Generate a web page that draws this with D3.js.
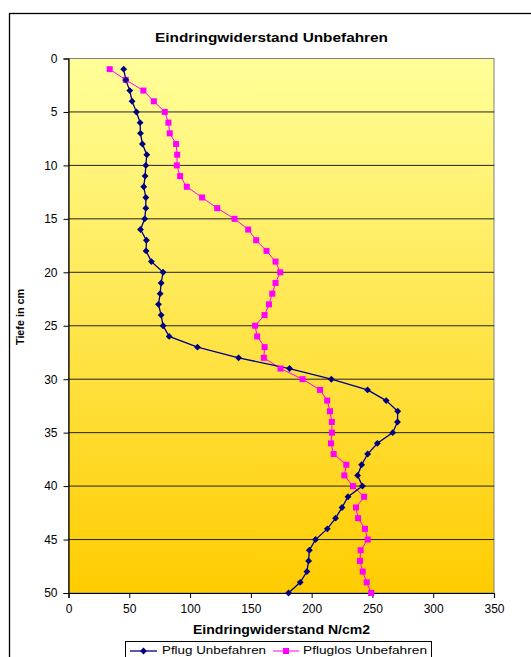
<!DOCTYPE html>
<html>
<head>
<meta charset="utf-8">
<script src="https://cdn.jsdelivr.net/npm/d3@7"></script>
<style>
  html, body { margin: 0; padding: 0; background: #fff; }
  svg { display: block; font-family: Arial, "Liberation Sans", sans-serif; }
</style>
</head>
<body>
<svg id="chart" width="531" height="657"></svg>
<script>
// Penetration resistance by depth, untrafficked plots
const depths = d3.range(1, 51);
const pflug = [45.4, 47.1, 50.4, 52.3, 55.9, 58.9, 59.2, 60.8, 64.4, 63.6,
               63.0, 61.9, 63.6, 63.6, 62.7, 59.2, 64.1, 63.8, 68.2, 77.8,
               76.2, 75.4, 74.0, 76.2, 77.8, 82.8, 106.1, 139.9, 181.8, 216.2,
               246.0, 261.3, 270.8, 270.6, 266.7, 254.1, 246.1, 241.1, 237.8, 241.8,
               229.9, 225.0, 219.7, 212.9, 203.2, 198.1, 197.5, 196.1, 190.6, 181.0];
const pfluglos = [33.9, 47.1, 61.6, 70.2, 79.2, 82.2, 83.3, 88.5, 89.4, 89.1,
                  91.8, 97.3, 109.9, 122.3, 136.6, 147.8, 154.4, 162.9, 170.3, 174.2,
                  170.3, 167.6, 164.9, 161.3, 153.5, 155.2, 161.3, 160.7, 174.4, 192.5,
                  206.9, 212.8, 215.1, 216.6, 216.7, 215.9, 218.1, 228.5, 226.9, 234.0,
                  243.1, 236.5, 238.2, 243.9, 246.1, 240.3, 239.8, 242.0, 245.3, 249.0];
const xTicks = [0, 50, 100, 150, 200, 250, 300, 350];
const yTicks = [0, 5, 10, 15, 20, 25, 30, 35, 40, 45, 50];
const seriesNames = ["Pflug Unbefahren", "Pfluglos Unbefahren"];

const svg = d3.select("#chart");
const plot = { left: 68.5, right: 494, top: 58.5, bottom: 593 };

const x = d3.scaleLinear().domain([0, 350]).range([plot.left, plot.right]);
const y = d3.scaleLinear().domain([0, 50]).range([plot.top, plot.bottom]);

// chart frame
svg.append("rect")
  .attr("x", 9.5).attr("y", 13.5).attr("width", 540).attr("height", 660)
  .attr("fill", "#fff").attr("stroke", "#000").attr("stroke-width", 1.3);

// plot background gradient
const defs = svg.append("defs");
const grad = defs.append("linearGradient").attr("id", "bg")
  .attr("x1", 0).attr("y1", 0).attr("x2", 0).attr("y2", 1);
grad.append("stop").attr("offset", "0%").attr("stop-color", "#FFFF99");
grad.append("stop").attr("offset", "100%").attr("stop-color", "#FFCC00");

svg.append("rect")
  .attr("x", plot.left).attr("y", plot.top)
  .attr("width", plot.right - plot.left).attr("height", plot.bottom - plot.top)
  .attr("fill", "url(#bg)").attr("stroke", "#808080").attr("stroke-width", 1);

// horizontal gridlines
svg.append("g").selectAll("line")
  .data(yTicks.filter(t => t > 0 && t < 50))
  .join("line")
  .attr("x1", plot.left).attr("x2", plot.right)
  .attr("y1", d => y(d)).attr("y2", d => y(d))
  .attr("stroke", "#222").attr("stroke-width", 1);

// axes
const yAxis = svg.append("g")
  .attr("transform", `translate(${plot.left},0)`)
  .call(d3.axisLeft(y).tickValues(yTicks).tickSize(5).tickPadding(6).tickFormat(d3.format("d")));
const xAxis = svg.append("g")
  .attr("transform", `translate(0,${plot.bottom})`)
  .call(d3.axisBottom(x).tickValues(xTicks).tickSize(5).tickPadding(6).tickFormat(d3.format("d")));
[xAxis, yAxis].forEach(a => {
  a.select(".domain").attr("stroke", "#000").attr("stroke-width", 1.2);
  a.selectAll(".tick line").attr("stroke", "#000");
  a.selectAll(".tick text").attr("font-size", 12).attr("fill", "#000")
    .attr("font-family", "Arial, 'Liberation Sans', sans-serif");
});

// series
const line = vals => d3.line()
  .x((d, i) => x(vals[i]))
  .y(d => y(d))(depths);

svg.append("path").attr("d", line(pfluglos))
  .attr("fill", "none").attr("stroke", "#FF00FF").attr("stroke-width", 1);
svg.append("path").attr("d", line(pflug))
  .attr("fill", "none").attr("stroke", "#000080").attr("stroke-width", 1.3);

const diamond = d3.symbol().type(d3.symbolDiamond2).size(30);

svg.append("g").selectAll("rect")
  .data(depths)
  .join("rect")
  .attr("x", (d, i) => x(pfluglos[i]) - 3)
  .attr("y", d => y(d) - 3)
  .attr("width", 6).attr("height", 6)
  .attr("fill", "#FF00FF");

svg.append("g").selectAll("path")
  .data(depths)
  .join("path")
  .attr("d", diamond)
  .attr("transform", (d, i) => `translate(${x(pflug[i])},${y(d)})`)
  .attr("fill", "#000080");

// titles (widened to the chart's wide label style)
svg.append("text")
  .attr("x", 155).attr("y", 42)
  .attr("font-weight", "bold").attr("font-size", 13)
  .attr("textLength", 233).attr("lengthAdjust", "spacingAndGlyphs")
  .text("Eindringwiderstand Unbefahren");

svg.append("text")
  .attr("x", 193).attr("y", 634)
  .attr("font-weight", "bold").attr("font-size", 12.5)
  .attr("textLength", 177).attr("lengthAdjust", "spacingAndGlyphs")
  .text("Eindringwiderstand N/cm2");

svg.append("text")
  .attr("transform", "translate(24,345) rotate(-90)")
  .attr("font-weight", "bold").attr("font-size", 10)
  .attr("textLength", 56).attr("lengthAdjust", "spacingAndGlyphs")
  .text("Tiefe in cm");

// legend
const legend = svg.append("g");
legend.append("rect")
  .attr("x", 125.5).attr("y", 641.5).attr("width", 306).attr("height", 30)
  .attr("fill", "#fff").attr("stroke", "#000").attr("stroke-width", 1);

const lg1 = legend.append("g");
lg1.append("line").attr("x1", 130).attr("x2", 157).attr("y1", 651).attr("y2", 651)
  .attr("stroke", "#000080").attr("stroke-width", 1.3);
lg1.append("path").attr("d", diamond)
  .attr("transform", "translate(143.5,651)").attr("fill", "#000080");
lg1.append("text").attr("x", 162).attr("y", 654.3)
  .attr("font-size", 11.3)
  .attr("textLength", 104).attr("lengthAdjust", "spacingAndGlyphs")
  .text(seriesNames[0]);

const lg2 = legend.append("g");
lg2.append("line").attr("x1", 273).attr("x2", 299).attr("y1", 651).attr("y2", 651)
  .attr("stroke", "#FF00FF").attr("stroke-width", 1);
lg2.append("rect").attr("x", 283).attr("y", 648).attr("width", 6).attr("height", 6)
  .attr("fill", "#FF00FF");
lg2.append("text").attr("x", 303).attr("y", 654.3)
  .attr("font-size", 11.3)
  .attr("textLength", 124).attr("lengthAdjust", "spacingAndGlyphs")
  .text(seriesNames[1]);
</script>
</body>
</html>
